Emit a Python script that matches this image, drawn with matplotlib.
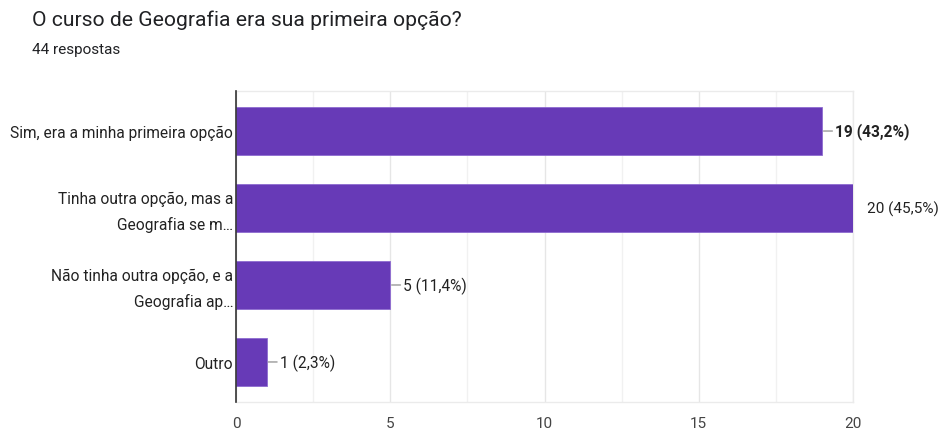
import matplotlib
matplotlib.use("Agg")
import matplotlib.pyplot as plt
from matplotlib.ticker import MultipleLocator
from matplotlib.transforms import ScaledTranslation

plt.rcParams['font.family'] = ['Roboto', 'DejaVu Sans']

title = "O curso de Geografia era sua primeira opção?"
subtitle = "44 respostas"
categories = [
    "Sim, era a minha primeira opção",
    "Tinha outra opção, mas a\nGeografia se m…",
    "Não tinha outra opção, e a\nGeografia ap…",
    "Outro",
]
counts = [19, 20, 5, 1]
percents = ["43,2%", "45,5%", "11,4%", "2,3%"]
bold_label = [True, False, False, False]
x_ticks = [0, 5, 10, 15, 20]

bar_color = "#673ab7"
text_color = "#222222"

fig = plt.figure(figsize=(9.46, 4.35), dpi=100)
W, H = 946, 435
left, right, top, bottom = 236, 853, 92, 403
ax = fig.add_axes([left / W, 1 - bottom / H, (right - left) / W, (bottom - top) / H])

ypos = list(range(len(categories)))
ax.barh(ypos, counts, height=0.62, color=bar_color, edgecolor="#8e6bd0",
        linewidth=0.6, zorder=3)

ax.set_xlim(x_ticks[0], x_ticks[-1])
ax.set_ylim(len(categories) - 0.48, -0.52)

# gridlines every 2.5, with the labelled ones slightly stronger
ax.xaxis.set_major_locator(MultipleLocator(5))
ax.xaxis.set_minor_locator(MultipleLocator(2.5))
ax.grid(axis="x", which="minor", color="#f1f1f1", linewidth=1.0, zorder=0)
ax.grid(axis="x", which="major", color="#e6e6e6", linewidth=1.0, zorder=0)
ax.set_axisbelow(True)

ax.set_xticks(x_ticks)
ax.set_xticklabels([str(t) for t in x_ticks])
ax.tick_params(axis="x", which="both", length=0, pad=10, labelsize=11,
               labelcolor="#444444")
ax.set_yticks(ypos)
ax.set_yticklabels(categories, fontsize=11.2, color=text_color, linespacing=1.75)
ax.tick_params(axis="y", length=0, pad=2)

# nudge two-line category labels up a little so they sit centred on the bar
for lbl in ax.get_yticklabels():
    if "\n" in lbl.get_text():
        lbl.set_transform(lbl.get_transform() +
                          ScaledTranslation(0, 3 / 100, fig.dpi_scale_trans))

for side in ("top", "right", "bottom"):
    ax.spines[side].set_color("#ebebeb")
    ax.spines[side].set_linewidth(1.0)
ax.spines["left"].set_color("#333333")
ax.spines["left"].set_linewidth(1.2)
ax.spines["left"].set_zorder(4)

xmax = x_ticks[-1]
for y, c, p, b in zip(ypos, counts, percents, bold_label):
    label = f"{c} ({p})"
    if c < xmax:
        ax.annotate(label, xy=(c, y), xytext=(13, 0), textcoords="offset pixels",
                    va="center", ha="left", fontsize=11.2, color=text_color,
                    fontweight="bold" if b else "normal",
                    arrowprops=dict(arrowstyle="-", color="#999999", lw=1.0,
                                    shrinkA=0, shrinkB=1),
                    annotation_clip=False)
    else:
        ax.annotate(label, xy=(c, y), xytext=(14, 0), textcoords="offset pixels",
                    va="center", ha="left", fontsize=11, color=text_color,
                    fontweight="bold" if b else "normal", annotation_clip=False)

fig.text(32 / W, 1 - 20 / H, title, fontsize=15.2, color="#202124",
         ha="left", va="center")
fig.text(32 / W, 1 - 50 / H, subtitle, fontsize=11, color="#202124",
         ha="left", va="center")

fig.savefig("out.png", dpi=100, facecolor="white")
